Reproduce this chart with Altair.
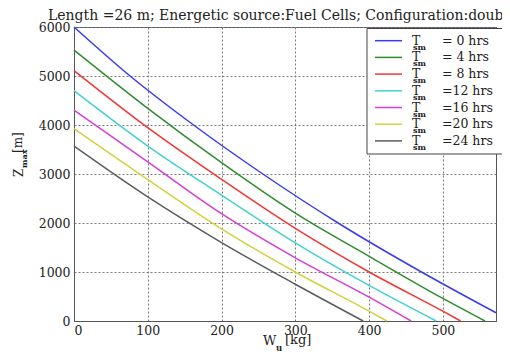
import altair as alt
import pandas as pd

# ---- data ----
labels = ["= 0 hrs", "= 4 hrs", "= 8 hrs", "=12 hrs", "=16 hrs", "=20 hrs", "=24 hrs"]
colors = ["#3b3bf2", "#2f8c2f", "#f23636", "#3fd2d2", "#d43fd4", "#d2d23c", "#5c5c5c"]

x_0h = [0, 76, 162, 256, 358, 471, 572]
y_0h = [6000, 5000, 4000, 3000, 2000, 1000, 168]
x_4h = [0, 100, 200, 300, 400, 500, 557]
y_4h = [5530, 4340, 3230, 2200, 1320, 460, 0]
x_8h = [0, 100, 200, 300, 400, 500, 524]
y_8h = [5110, 3945, 2890, 1890, 1000, 200, 0]
x_12h = [0, 100, 200, 300, 400, 491]
y_12h = [4700, 3570, 2570, 1595, 726, 0]
x_16h = [0, 100, 200, 300, 400, 457]
y_16h = [4305, 3247, 2190, 1290, 487, 0]
x_20h = [0, 100, 200, 300, 400, 424]
y_20h = [3922, 2887, 1880, 1000, 200, 0]
x_24h = [0, 100, 200, 300, 392]
y_24h = [3569, 2532, 1600, 750, 0]

x_ticks = [0, 100, 200, 300, 400, 500]
y_ticks = [0, 1000, 2000, 3000, 4000, 5000, 6000]

title_text = "Length =26 m; Energetic source:Fuel Cells; Configuration:double"

xs = [x_0h, x_4h, x_8h, x_12h, x_16h, x_20h, x_24h]
ys = [y_0h, y_4h, y_8h, y_12h, y_16h, y_20h, y_24h]
rows = []
for lab, xv, yv in zip(labels, xs, ys):
    for a, b in zip(xv, yv):
        rows.append({"series": lab, "w": a, "z": b})
df = pd.DataFrame(rows)

FONT = "DejaVu Serif"
W, H = 422, 294

lines = alt.Chart(df).mark_line(strokeWidth=1.5, interpolate="monotone").encode(
    x=alt.X("w:Q", scale=alt.Scale(domain=[0, 572], nice=False),
            axis=alt.Axis(values=x_ticks, title=None, grid=True, ticks=False,
                          gridDash=[2, 2], gridColor="#7a7a7a", gridOpacity=1,
                          domainColor="#555", labelFont=FONT, labelFontSize=12.5,
                          labelColor="#222", labelPadding=3, format="d")),
    y=alt.Y("z:Q", scale=alt.Scale(domain=[0, 6000], nice=False),
            axis=alt.Axis(values=y_ticks, title=None, grid=True, ticks=False,
                          gridDash=[2, 2], gridColor="#7a7a7a", gridOpacity=1,
                          domainColor="#555", labelFont=FONT, labelFontSize=12.5,
                          labelColor="#222", labelPadding=4, format="d")),
    color=alt.Color("series:N", scale=alt.Scale(domain=labels, range=colors), legend=None),
    order=alt.Order("w:Q"),
)

# ---- custom legend (with subscripts) ----
leg = pd.DataFrame({
    "label": labels,
    "color": colors,
    "ly": [13.7 + i * 16.7 for i in range(len(labels))],
})
leg["ly_sub"] = leg["ly"] + 7
leg["T"] = "T"
leg["sm"] = "sm"

legend_box = alt.Chart(pd.DataFrame({"a": [0]})).mark_rect(
    fill="white", stroke="#444", strokeWidth=1
).encode(x=alt.value(293), x2=alt.value(450), y=alt.value(1.5), y2=alt.value(127))

legend_lines = alt.Chart(leg).mark_rule(strokeWidth=1.5).encode(
    x=alt.value(301), x2=alt.value(328),
    y=alt.Y("ly:Q", scale=None),
    color=alt.Color("color:N", scale=None),
)
legend_T = alt.Chart(leg).mark_text(
    font=FONT, fontSize=12.5, align="left", baseline="middle", color="#222"
).encode(x=alt.value(338), y=alt.Y("ly:Q", scale=None), text="T:N")
legend_sm = alt.Chart(leg).mark_text(
    font=FONT, fontSize=8, fontWeight="bold", align="left", baseline="middle", color="#222"
).encode(x=alt.value(339), y=alt.Y("ly_sub:Q", scale=None), text="sm:N")
legend_lab = alt.Chart(leg).mark_text(
    font=FONT, fontSize=12.5, align="left", baseline="middle", color="#222"
).encode(x=alt.value(368), y=alt.Y("ly:Q", scale=None), text="label:N")

# ---- titles ----
one = pd.DataFrame({"a": [0]})
title = alt.Chart(one).mark_text(
    font=FONT, fontSize=14, align="left", baseline="alphabetic", color="#222"
).encode(x=alt.value(-26), y=alt.value(-7), text=alt.value(title_text))

xt_W = alt.Chart(one).mark_text(font=FONT, fontSize=13, align="left", baseline="alphabetic",
                                color="#222").encode(x=alt.value(189), y=alt.value(318), text=alt.value("W"))
xt_u = alt.Chart(one).mark_text(font=FONT, fontSize=8.5, fontWeight="bold", align="left",
                                baseline="alphabetic", color="#222").encode(
    x=alt.value(202), y=alt.value(323.5), text=alt.value("u"))
xt_kg = alt.Chart(one).mark_text(font=FONT, fontSize=13, align="left", baseline="alphabetic",
                                 color="#222").encode(x=alt.value(211), y=alt.value(317), text=alt.value("[kg]"))

yt_Z = alt.Chart(one).mark_text(font=FONT, fontSize=12, align="left", baseline="alphabetic",
                                angle=270, color="#222").encode(
    x=alt.value(-51), y=alt.value(150), text=alt.value("Z"))
yt_max = alt.Chart(one).mark_text(font=FONT, fontSize=8, fontWeight="bold", align="left",
                                  baseline="alphabetic", angle=270, color="#222").encode(
    x=alt.value(-47), y=alt.value(141), text=alt.value("max"))
yt_m = alt.Chart(one).mark_text(font=FONT, fontSize=12, align="left", baseline="alphabetic",
                                angle=270, color="#222").encode(
    x=alt.value(-52), y=alt.value(126), text=alt.value("[m]"))

chart = alt.layer(
    lines, legend_box, legend_lines, legend_T, legend_sm, legend_lab,
    title, xt_W, xt_u, xt_kg, yt_Z, yt_max, yt_m,
).properties(
    width=W, height=H,
    autosize=alt.AutoSizeParams(type="none"),
    padding={"left": 66, "top": 19, "right": 6, "bottom": 31},
    background="white",
).configure_view(stroke="#555", strokeWidth=1)

chart.save("out.html", embed_options={"renderer": "svg", "actions": False})
